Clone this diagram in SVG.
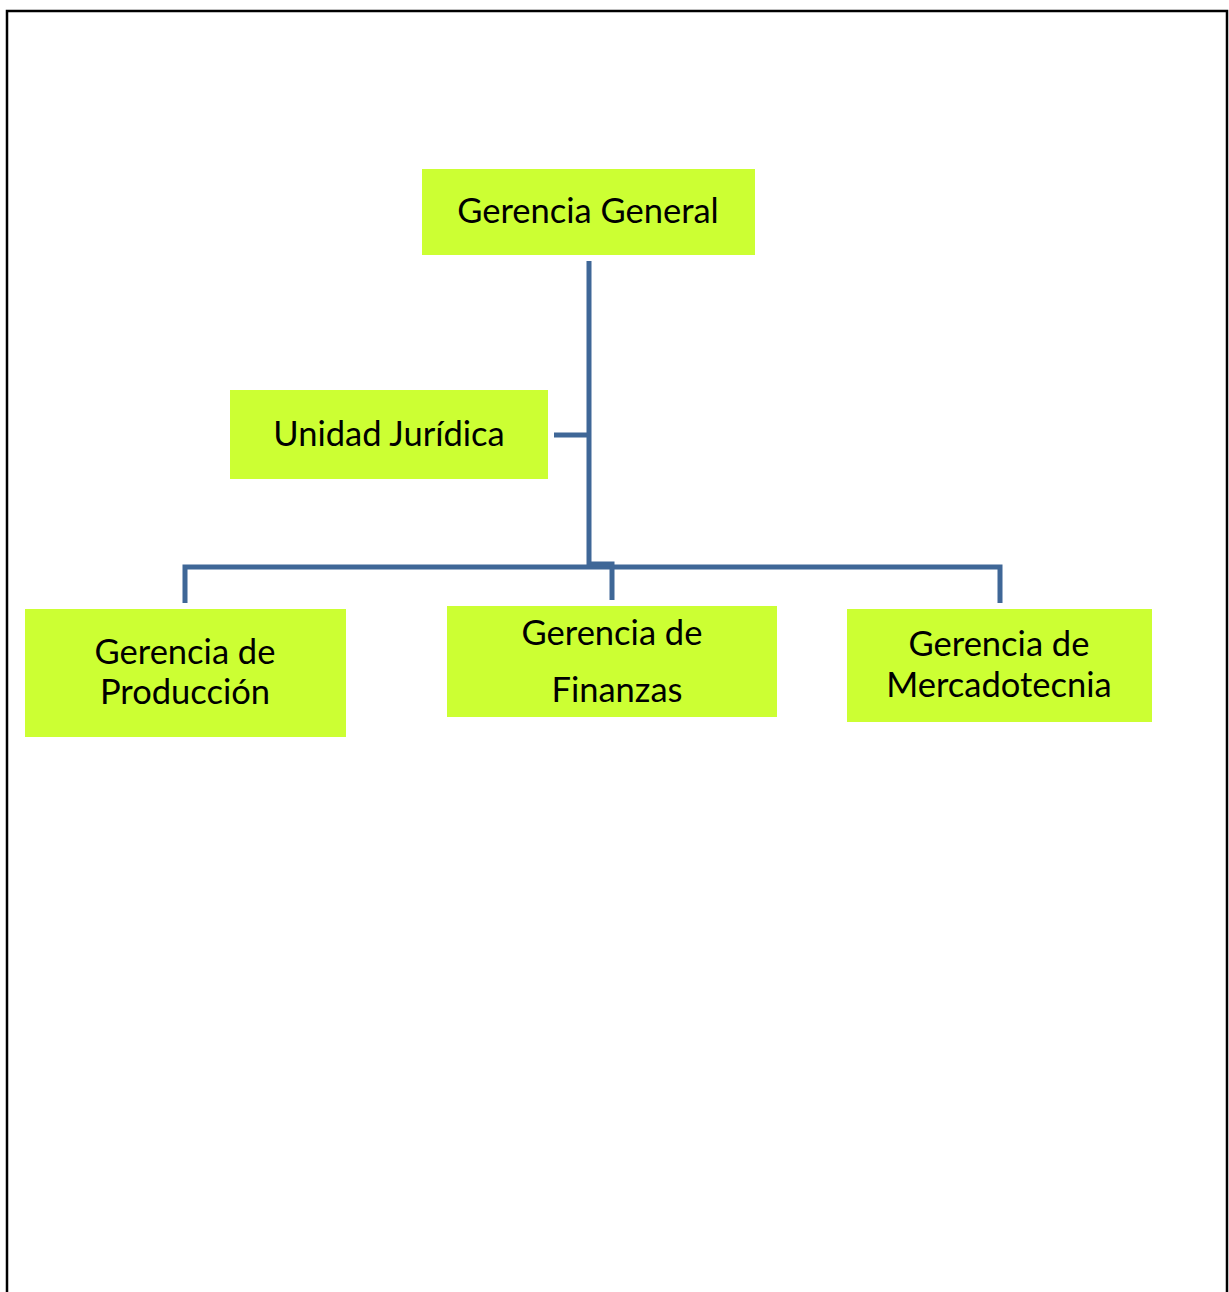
<svg xmlns="http://www.w3.org/2000/svg" width="1229" height="1292" viewBox="0 0 1229 1292">
<style>
.box{fill:#CCFF33}
.t{font-family:Lato,"Open Sans","Liberation Sans",sans-serif;font-size:34.5px;fill:#000;text-anchor:middle}
.c{fill:none;stroke:#3F6797;stroke-width:5}
</style>
<rect x="0" y="0" width="1229" height="1292" fill="#fff"/>
<path d="M7,1292 V11 H1227 V1292" fill="none" stroke="#000" stroke-width="2.5"/>
<g id="connectors">
<path class="c" d="M589,261 V566"/>
<path class="c" d="M554,435 H589"/>
<path class="c" d="M185,603 V567 H1000 V603"/>
<path class="c" d="M589,564 H612 V600"/>
</g>
<g id="gerencia-general">
<rect class="box" x="422" y="169" width="333" height="86"/>
<text class="t" x="588" y="223">Gerencia General</text>
</g>
<g id="unidad-juridica">
<rect class="box" x="230" y="390" width="318" height="89"/>
<text class="t" x="389" y="446">Unidad Jurídica</text>
</g>
<g id="gerencia-produccion">
<rect class="box" x="25" y="609" width="321" height="128"/>
<text class="t" x="185" y="664">Gerencia de</text>
<text class="t" x="185" y="704">Producción</text>
</g>
<g id="gerencia-finanzas">
<rect class="box" x="447" y="606" width="330" height="111"/>
<text class="t" x="612" y="645">Gerencia de</text>
<text class="t" x="617" y="702">Finanzas</text>
</g>
<g id="gerencia-mercadotecnia">
<rect class="box" x="847" y="609" width="305" height="113"/>
<text class="t" x="999" y="656">Gerencia de</text>
<text class="t" x="999" y="697">Mercadotecnia</text>
</g>
</svg>
